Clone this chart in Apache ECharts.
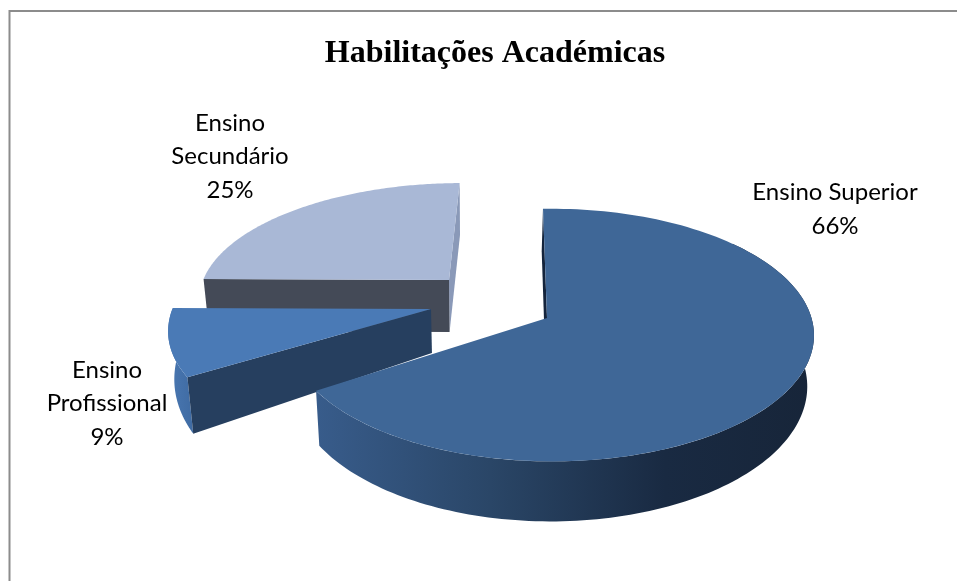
<!DOCTYPE html>
<html>
<head>
<meta charset="utf-8">
<style>html,body{margin:0;padding:0;background:#fff}#c{width:957px;height:581px}</style>
<script src="https://cdn.jsdelivr.net/npm/echarts@6/dist/echarts.min.js"></script>
</head>
<body>
<div id="c"></div>
<script>
var titleText = 'Habilitações Académicas';
var categories = ['Ensino Superior', 'Ensino Profissional', 'Ensino Secundário'];
var values = [66, 9, 25];

// Presentation only: explode position and projection of each slice, colours, label placement.
var drawOrder = [2, 1, 0];
var slices = [
  {ax: 547, ay: 318, rx: 260, k: 124, shear: 0, spin: 0, h0: 50, hq: 0.07, wallFrom: 50, wallTo: 999,
   top: '#3F6797', far: 'start', farColor: '#14243C', near: null, nearColor: null,
   wall: [[0, '#385C8B'], [0.35, '#2A4667'], [0.7, '#192A42'], [1, '#172539']],
   lx: 835, ly: 209.5, lines: ['Ensino Superior']},
  {ax: 431, ay: 309, rx: 263, k: 122, shear: -0.1, spin: 1.5, h0: 44, hq: 0.18, wallFrom: 0, wallTo: 999,
   top: '#4A7AB6', far: null, farColor: null, near: 'start', nearColor: '#263F5F',
   wall: [[0, '#4A78B2'], [1, '#3F6BA3']],
   lx: 107, ly: 403.5, lines: ['Ensino', 'Profissional']},
  {ax: 449, ay: 280, rx: 250, k: 110, shear: -0.09, spin: 1.5, h0: 52, hq: 0, wallFrom: 0, wallTo: 0,
   top: '#A9B8D6', far: 'end', farColor: '#8A99B8', near: 'start', nearColor: '#444A57',
   wall: [[0, '#444A57'], [1, '#444A57']],
   lx: 230, ly: 156.5, lines: ['Ensino', 'Secundário']}
];
var rotation = -1, persp = 0.135, tilt = 0.017, vanishX = 478, converge = 0.02;

var total = values.reduce(function (a, b) { return a + b; }, 0);
var startAngles = [];
values.reduce(function (acc, v, i) { startAngles[i] = acc; return acc + v / total * 360; }, rotation);

function topPoint(s, deg) {
  var t = (deg + s.spin) * Math.PI / 180, u = Math.sin(t), v = -Math.cos(t);
  var d = 1 - persp * v - tilt * u;
  var dy = s.k * v / d;
  return [s.ax + s.rx * u / d + s.shear * dy, s.ay + dy, dy];
}
function lower(s, p) {
  return [p[0] - (p[0] - vanishX) * converge, p[1] + s.h0 + s.hq * p[2]];
}
function arc(s, a, b) {
  var pts = [], n = 140;
  for (var i = 0; i <= n; i++) pts.push(topPoint(s, a + (b - a) * i / n));
  return pts;
}
function xy(p) { return [p[0], p[1]]; }

function renderItem(params, api) {
  var idx = api.value(0), val = api.value(1), s = slices[idx];
  var a1 = startAngles[idx], a2 = a1 + val / total * 360;
  var apex = [s.ax, s.ay, 0], apexLow = lower(s, apex);
  var ends = {start: topPoint(s, a1), end: topPoint(s, a2)};
  var children = [];
  function poly(points, fill) {
    children.push({type: 'polygon', shape: {points: points}, style: {fill: fill, stroke: null}});
  }
  function radial(edge, fill) {
    poly([xy(edge), lower(s, edge), apexLow, xy(apex)], fill);
  }
  if (s.far) radial(ends[s.far], s.farColor);
  var from = Math.max(a1, s.wallFrom), to = Math.min(a2, s.wallTo);
  if (to > from) {
    var wa = arc(s, from, to);
    var wall = wa.map(xy).concat(wa.slice().reverse().map(function (p) { return lower(s, p); }));
    poly(wall, new echarts.graphic.LinearGradient(0, 0, 1, 0, s.wall.map(function (c) {
      return {offset: c[0], color: c[1]};
    })));
  }
  if (s.near) radial(ends[s.near], s.nearColor);
  poly(arc(s, a1, a2).map(xy).concat([xy(apex)]), s.top);
  children.push({
    type: 'text',
    style: {
      x: s.lx, y: s.ly,
      text: s.lines.concat([Math.round(val / total * 100) + '%']).join('\n'),
      font: '24px Lato', lineHeight: 33.5,
      fill: '#000', align: 'center', verticalAlign: 'middle'
    }
  });
  return {type: 'group', children: children};
}

var chart = echarts.init(document.getElementById('c'), null, {renderer: 'canvas'});
chart.setOption({
  animation: false,
  backgroundColor: '#fff',
  title: {
    text: titleText, left: 490, top: 49, textAlign: 'center', textVerticalAlign: 'middle',
    textStyle: {fontFamily: 'Liberation Serif', fontWeight: 'bold', fontSize: 32, color: '#000'}
  },
  graphic: [{
    type: 'polyline', silent: true,
    shape: {points: [[9.5, 581], [9.5, 11], [957, 11]]},
    style: {stroke: '#8C8C8C', lineWidth: 2, fill: null}
  }],
  series: [{
    type: 'custom',
    coordinateSystem: 'none',
    renderItem: renderItem,
    dimensions: ['index', 'value'],
    data: drawOrder.map(function (i) { return [i, values[i]]; })
  }]
});
</script>
</body>
</html>
